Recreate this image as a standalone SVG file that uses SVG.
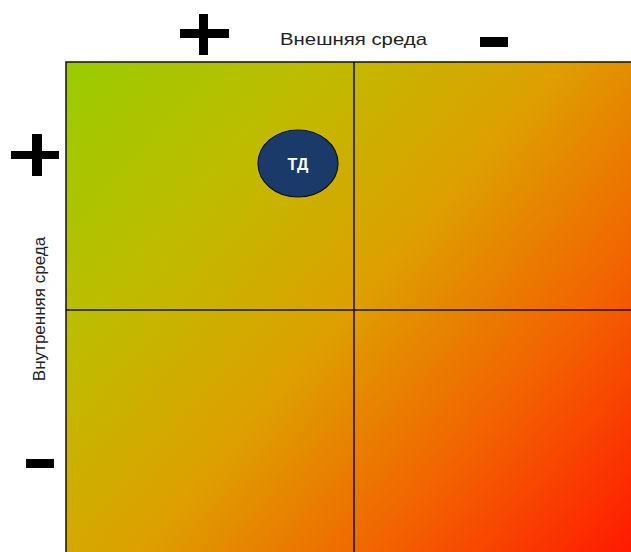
<svg xmlns="http://www.w3.org/2000/svg" width="631" height="552" viewBox="0 0 631 552">
<style>
.lbl{font-family:"Liberation Sans",Arial,sans-serif;font-size:17px;fill:#222}
.sign{fill:#000}
.grid{stroke:#111;stroke-width:1.5;fill:none}
</style>
<defs>
<linearGradient id="bg" gradientUnits="userSpaceOnUse" x1="66" y1="62" x2="631" y2="552">
<stop offset="0" stop-color="#99CC00"/>
<stop offset="0.25" stop-color="#BDBD00"/>
<stop offset="0.5" stop-color="#DDA000"/>
<stop offset="0.74" stop-color="#F26400"/>
<stop offset="1" stop-color="#FF1A00"/>
</linearGradient>
</defs>
<rect width="631" height="552" fill="#fff"/>
<g id="matrix">
<rect x="66" y="62" width="570" height="495" fill="url(#bg)" stroke="#111" stroke-width="1.5"/>
</g>
<g id="connectors">
<line class="grid" x1="354" y1="62" x2="354" y2="552"/>
<line class="grid" x1="66" y1="310" x2="631" y2="310"/>
</g>
<g id="signs">
<rect class="sign" x="180" y="29" width="49" height="9"/>
<rect class="sign" x="199" y="14" width="9" height="41"/>
<rect class="sign" x="480" y="37" width="28" height="10"/>
<rect class="sign" x="11" y="151" width="48" height="8"/>
<rect class="sign" x="32" y="134" width="10" height="42"/>
<rect class="sign" x="26" y="459" width="28" height="9"/>
</g>
<g id="labels">
<text class="lbl" x="280" y="45" font-size="18" textLength="147" lengthAdjust="spacingAndGlyphs">Внешняя среда</text>
<text class="lbl" transform="translate(45,309) rotate(-90)" text-anchor="middle">Внутренняя среда</text>
</g>
<g id="node-td">
<ellipse cx="298" cy="163.5" rx="40" ry="33.5" fill="#1A3A6A" stroke="#111" stroke-width="1.2"/>
<text x="298" y="169.5" text-anchor="middle" font-family="'Liberation Sans',Arial,sans-serif" font-weight="bold" font-size="16" fill="#fff">ТД</text>
</g>
</svg>
